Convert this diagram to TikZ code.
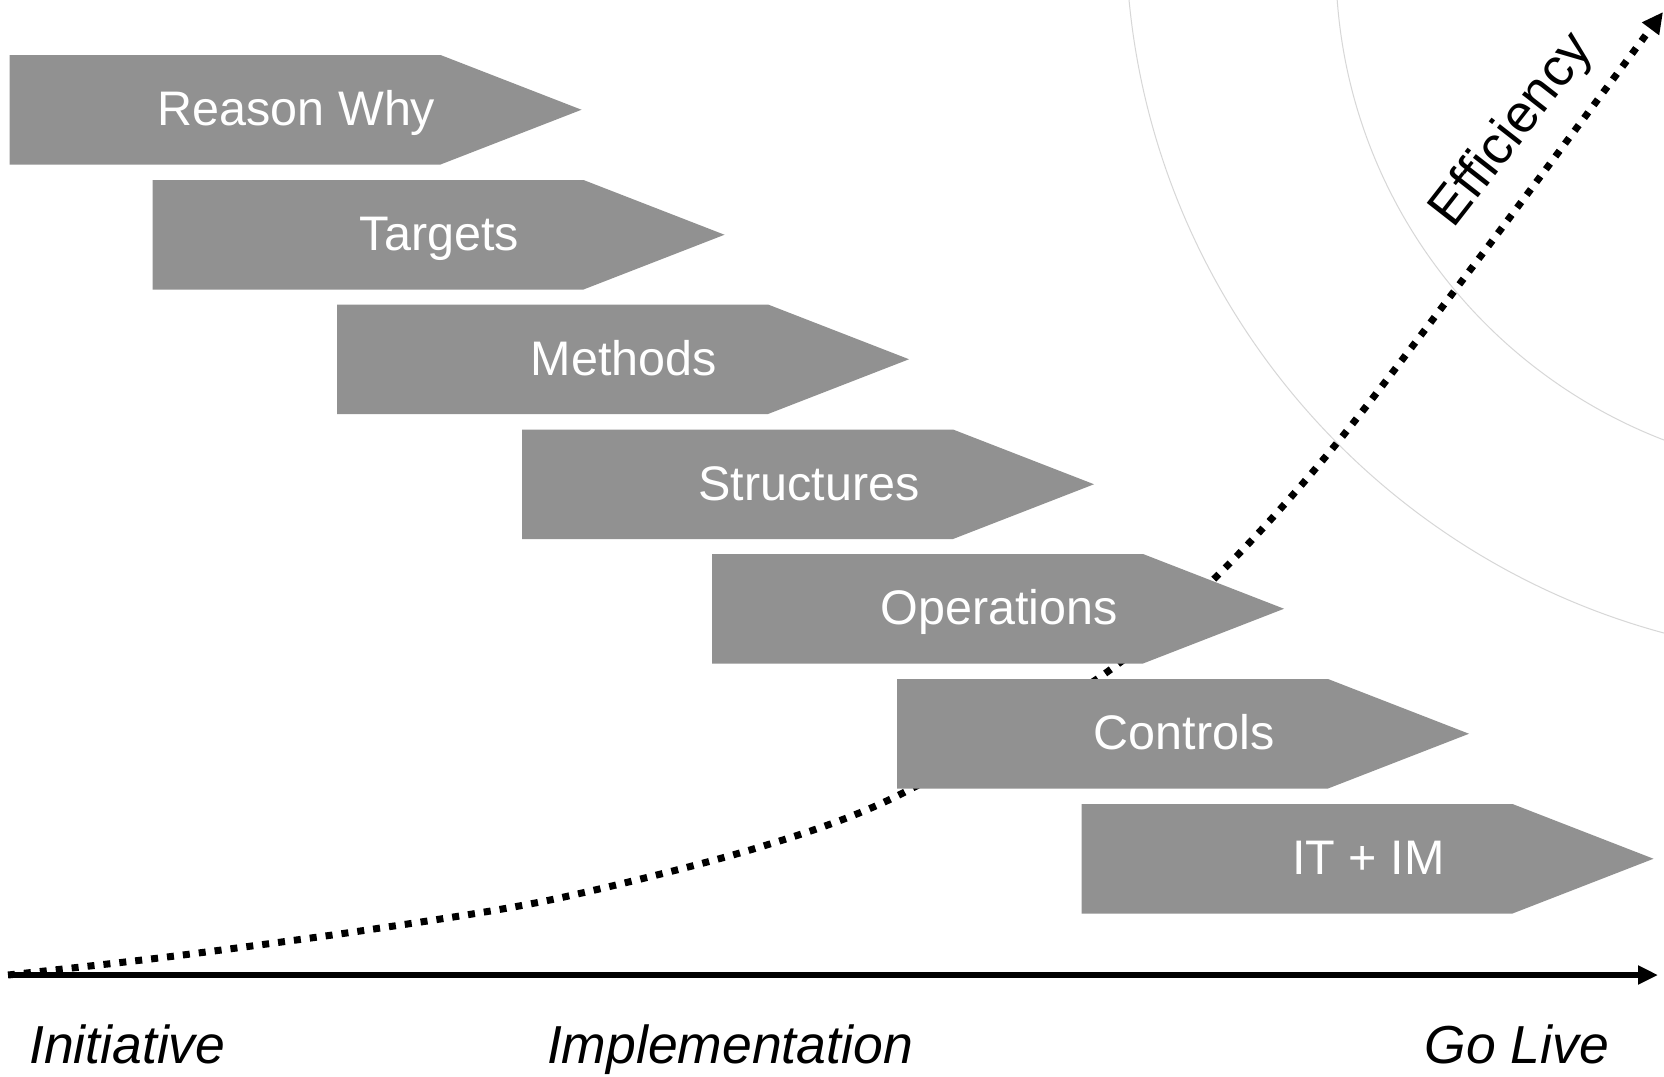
\documentclass[tikz,border=0pt]{standalone}
\usepackage{fontspec}
\setmainfont{Liberation Sans}
\usetikzlibrary{arrows.meta}
\definecolor{boxgray}{RGB}{145,145,145}
\definecolor{arcgray}{RGB}{215,215,215}
\begin{document}
\begin{tikzpicture}[x=1pt,y=-1pt,
  stepbox/.style={fill=boxgray},
  steplabel/.style={text=white,font=\fontsize{48.5}{58}\selectfont,inner sep=0pt,anchor=base},
  phaselabel/.style={font=\fontsize{53.5}{64}\selectfont\itshape,inner sep=0pt},
  efflabel/.style={font=\fontsize{53.5}{64}\selectfont,inner sep=0pt},
  effline/.style={line width=7pt,dash pattern=on 7pt off 9pt,-{Triangle[length=21pt,width=20pt]}},
  axisline/.style={line width=5.5pt,-{Triangle[length=20pt,width=18pt]}},
  guidearc/.style={draw=arcgray,line width=1pt}]
\useasboundingbox (0,0) rectangle (1664,1076);
\fill[white] (0,0) rectangle (1664,1076);
% guide arcs
\begin{scope}
  \clip (0,0) rectangle (1664,1076);
  \coordinate (c1) at (1853.7,-70);
  \coordinate (c2) at (1847.8,-38);
  \draw[guidearc] (c1) circle[radius=728pt];
  \draw[guidearc] (c2) circle[radius=512pt];
\end{scope}
% efficiency curve
\coordinate (o) at (8,975);
\coordinate (effend) at (1663,12);
\draw[effline] plot[smooth] coordinates {(o) (167,957) (367,930) (550,900) (750,850) (897,796) (1100,677) (1220,573) (1337,443) (1483,253) (effend)};
% steps
\foreach \nm/\lx/\ty/\txt in {why/9.5/55/Reason Why, tgt/152.5/180/Targets, mth/337/304.5/Methods, str/522/429.5/Structures, ops/712/554/Operations, ctl/897/679/Controls, itim/1081.5/804/IT + IM}{
  \fill[stepbox] (\lx,\ty) -- ++(431,0) -- ++(141,54.75) -- ++(-141,54.75) -- ++(-431,0) -- cycle;
  \node[steplabel] (\nm) at (\lx+287,\ty+70.5) {\txt};
}
% axis
\coordinate (axend) at (1658,975);
\draw[axisline] (o) -- (axend);
% labels
\node[phaselabel, anchor=base west] (ini) at (29,1063) {Initiative};
\node[phaselabel, anchor=base] (imp) at (730,1063) {Implementation};
\node[phaselabel, anchor=base east] (gol) at (1609,1063) {Go Live};
\node[efflabel, rotate=52] (eff) at (1513,131) {Efficiency};
\end{tikzpicture}
\end{document}
